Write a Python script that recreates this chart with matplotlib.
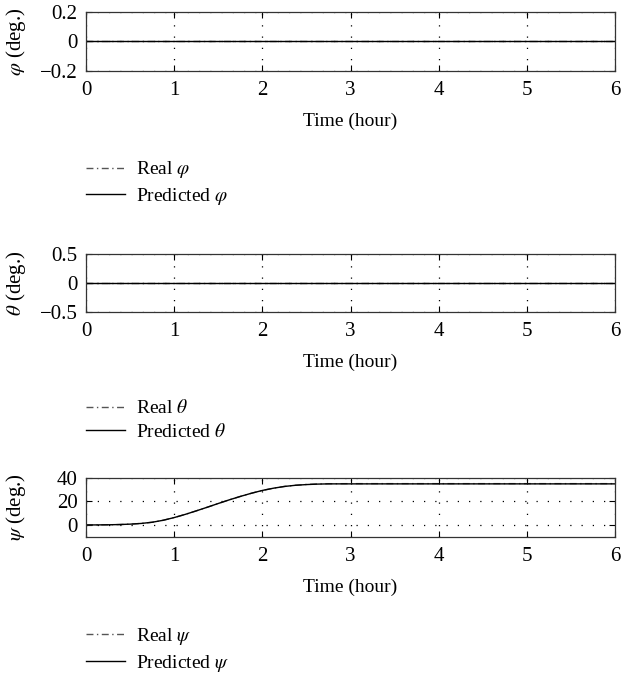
import numpy as np
import matplotlib
matplotlib.use('Agg')
import matplotlib.pyplot as plt

# time samples (hour)
t_flat = [0, 1, 2, 3, 4, 5, 6]
phi_real = [0, 0, 0, 0, 0, 0, 0]
phi_pred = [0, 0, 0, 0, 0, 0, 0]
theta_real = [0, 0, 0, 0, 0, 0, 0]
theta_pred = [0, 0, 0, 0, 0, 0, 0]

t_psi = [0, 0.125, 0.25, 0.375, 0.5, 0.625, 0.75, 0.875, 1.0, 1.125, 1.25, 1.375,
         1.5, 1.625, 1.75, 1.875, 2.0, 2.125, 2.25, 2.375, 2.5, 2.625, 2.75, 3, 4, 5, 6]
psi_real = [0, 0.05, 0.15, 0.35, 0.7, 1.3, 2.3, 4.0, 6.3, 9.0, 12.0, 15.1, 18.3, 21.4,
            24.3, 27.0, 29.4, 31.3, 32.8, 33.8, 34.5, 34.9, 35.1, 35.2, 35.2, 35.2, 35.2]
psi_pred = [0, 0.05, 0.15, 0.35, 0.7, 1.3, 2.3, 4.0, 6.3, 9.0, 12.0, 15.1, 18.3, 21.4,
            24.3, 27.0, 29.4, 31.3, 32.8, 33.8, 34.4, 34.8, 35.0, 35.0, 35.0, 35.0, 35.0]

xticks = [0, 1, 2, 3, 4, 5, 6]

plt.rcParams['font.family'] = ['Liberation Serif', 'DejaVu Serif']
plt.rcParams['mathtext.fontset'] = 'stix'
plt.rcParams['font.size'] = 14

fig = plt.figure(figsize=(6.22, 6.74), dpi=100)

panels = [
    # (bottom, height, t, real, pred, ylim, yticks, yticklabels, symbol)
    (0.8954, 0.0868, t_flat, phi_real, phi_pred, (-0.2, 0.2), [-0.2, 0, 0.2],
     ['\u22120.2', '0', '0.2'], r'\varphi'),
    (0.5375, 0.0856, t_flat, theta_real, theta_pred, (-0.5, 0.5), [-0.5, 0, 0.5],
     ['\u22120.5', '0', '0.5'], r'\theta'),
    (0.2037, 0.0871, t_psi, psi_real, psi_pred, (-10, 40), [0, 20, 40],
     ['0', '20', '40'], r'\psi'),
]

for bottom, height, t, real, pred, ylim, yt, ytl, sym in panels:
    ax = fig.add_axes([0.1383, bottom, 0.8505, height])
    l1, = ax.plot(t, real, color='#555555', linewidth=1.0,
                  linestyle=(0, (5, 2.5, 1, 2.5)), label='Real $' + sym + '$')
    l2, = ax.plot(t, pred, color='black', linewidth=1.0, label='Predicted $' + sym + '$')
    ax.set_xlim(0, 6)
    ax.set_ylim(*ylim)
    ax.set_xticks(xticks)
    ax.set_yticks(yt)
    ax.set_yticklabels(ytl)
    ax.grid(True, color='black', linewidth=0.9, linestyle=(0, (1, 8)))
    ax.tick_params(direction='in', top=True, right=True, length=4, width=0.8,
                   pad=6, labelsize=15)
    ax.tick_params(axis='x', pad=7.5)
    for s in ax.spines.values():
        s.set_linewidth(0.9)
        s.set_color('#333333')
    ax.set_xlabel('Time (hour)', labelpad=9, fontsize=14)
    ax.set_ylabel('$' + sym + '$ (deg.)', fontsize=15)
    ax.yaxis.set_label_coords(-0.11, 0.5)
    ax.legend(handles=[l1, l2], loc='upper left', frameon=False, fontsize=14,
              bbox_to_anchor=(0.0, -1.52), borderaxespad=0, borderpad=0,
              handlelength=2.0, handletextpad=0.55, labelspacing=0.3)

fig.savefig('out.png', dpi=100)
